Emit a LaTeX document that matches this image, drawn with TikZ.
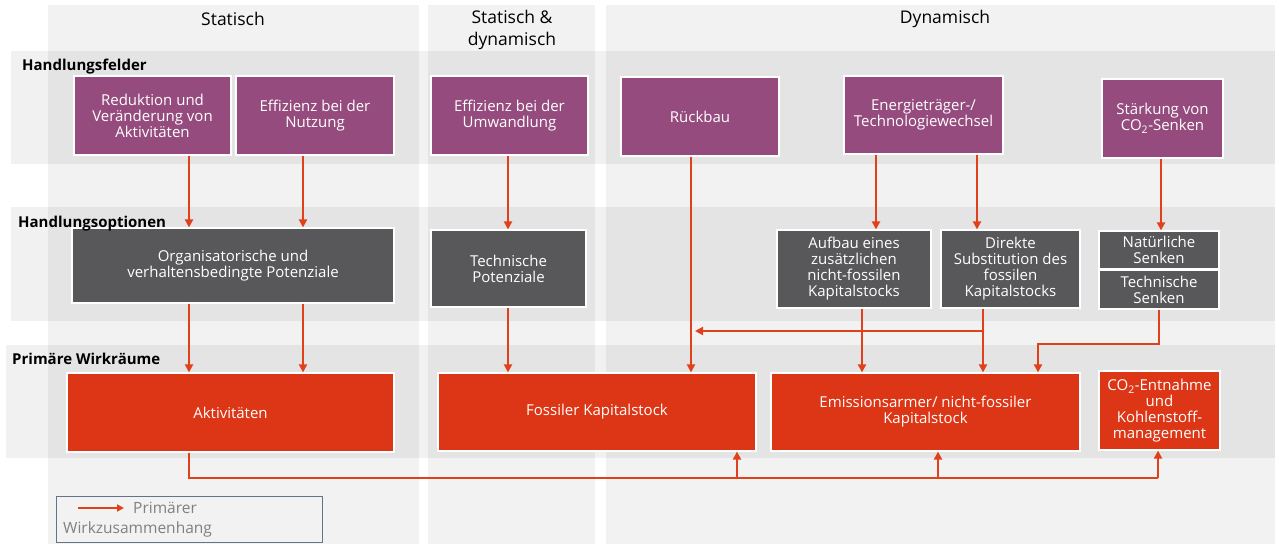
\documentclass[tikz,border=0pt]{standalone}
\usepackage{fontspec}
\setmainfont{Open Sans}
\usetikzlibrary{arrows.meta}
\definecolor{purp}{RGB}{149,75,126}
\definecolor{dgray}{RGB}{88,88,90}
\definecolor{wred}{RGB}{221,54,22}
\definecolor{ared}{RGB}{224,65,27}
\definecolor{colbg}{RGB}{242,242,242}
\definecolor{legbd}{RGB}{100,115,135}
\definecolor{legtx}{RGB}{128,128,128}
\begin{document}
\begin{tikzpicture}[x=1pt,y=-1pt,
  box/.style={draw=white, line width=1.2pt, text=white, align=center, inner sep=2pt, font=\fontsize{15}{16}\selectfont},
  pbox/.style={box, fill=purp},
  gbox/.style={box, fill=dgray},
  rbox/.style={box, fill=wred},
  arr/.style={draw=ared, line width=2.2pt, -{Triangle[length=8pt,width=8pt]}},
  ln/.style={draw=ared, line width=2.2pt},
  col/.style={fill=colbg},
  band/.style={fill=black, fill opacity=0.055},
  rowlab/.style={anchor=base west, font=\fontsize{15}{18}\selectfont\bfseries, inner sep=0pt},
  head/.style={align=center, font=\fontsize{17.5}{22}\selectfont, inner sep=0pt},
  legtext/.style={anchor=west, text=legtx, font=\fontsize{15.5}{18}\selectfont, inner sep=0pt}
]
\useasboundingbox (0,0) rectangle (1279,544);
\fill[white] (0,0) rectangle (1279,544);
% columns
\fill[col] (48,5) rectangle (419,544);
\fill[col] (428,5) rectangle (595,544);
\fill[col] (606,5) rectangle (1275,544);
% row bands
\fill[band] (11,51) rectangle (1275,164);
\fill[band] (11,207) rectangle (1275,321);
\fill[band] (6,345) rectangle (1275,458);
% headers
\node[head] (h1) at (233,19) {Statisch};
\node[head] (h2) at (512,30) {Statisch \&\\dynamisch};
\node[head] (h3) at (945,19) {Dynamisch};
% Handlungsfelder
\node[pbox, minimum width=157pt, minimum height=79pt] (b1) at (152.5,115.5) {Reduktion und\\Veränderung von\\Aktivitäten};
\node[pbox, minimum width=158pt, minimum height=79pt] (b2) at (315,115.5) {Effizienz bei der\\Nutzung};
\node[pbox, minimum width=157pt, minimum height=79pt] (b3) at (509.5,115.5) {Effizienz bei der\\Umwandlung};
\node[pbox, minimum width=158pt, minimum height=79pt] (b4) at (700,116.5) {Rückbau};
\node[pbox, minimum width=159pt, minimum height=78pt] (b5) at (923.5,115) {Energieträger-/\\Technologiewechsel};
\node[pbox, minimum width=121pt, minimum height=79pt] (b6) at (1162.5,118.5) {Stärkung von\\CO\textsubscript{2}-Senken};
% Handlungsoptionen
\node[gbox, minimum width=322pt, minimum height=75pt] (g1) at (233,265.5) {Organisatorische und\\verhaltensbedingte Potenziale};
\node[gbox, minimum width=155pt, minimum height=77pt] (g2) at (508.5,268.5) {Technische\\Potenziale};
\node[gbox, minimum width=154pt, minimum height=78pt] (g3) at (854,269) {Aufbau eines\\zusätzlichen\\nicht-fossilen\\Kapitalstocks};
\node[gbox, minimum width=139pt, minimum height=78pt] (g4) at (1010.5,269) {Direkte\\Substitution des\\fossilen\\Kapitalstocks};
\node[gbox, minimum width=120pt, minimum height=38pt] (g5) at (1159,250) {Natürliche\\Senken};
\node[gbox, minimum width=120pt, minimum height=39pt] (g6) at (1159,289.5) {Technische\\Senken};
% Primäre Wirkräume
\node[rbox, minimum width=327pt, minimum height=79pt] (r1) at (230.5,412.5) {Aktivitäten};
\node[rbox, minimum width=318pt, minimum height=78pt] (r2) at (597,412) {Fossiler Kapitalstock};
\node[rbox, minimum width=309pt, minimum height=78pt] (r3) at (925.5,412) {Emissionsarmer/ nicht-fossiler\\Kapitalstock};
\node[rbox, minimum width=121pt, minimum height=79pt] (r4) at (1159.5,410.5) {CO\textsubscript{2}-Entnahme\\und\\Kohlenstoff-\\management};
% row labels (drawn over the boxes)
\node[rowlab] (l1) at (22,70) {Handlungsfelder};
\node[rowlab] (l2) at (18,227) {Handlungsoptionen};
\node[rowlab] (l3) at (12,364) {Primäre Wirkräume};
% arrows row1 -> row2
\draw[arr] (b1.south -| 189,0) -- (g1.north -| 189,0);
\draw[arr] (b2.south -| 303,0) -- (g1.north -| 303,0);
\draw[arr] (b3.south -| 508,0) -- (g2.north -| 508,0);
\draw[arr] (b5.south -| 876,0) -- (g3.north -| 876,0);
\draw[arr] (b5.south -| 977,0) -- (g4.north -| 977,0);
\draw[arr] (b6.south -| 1161,0) -- (g5.north -| 1161,0);
% row2 -> row3
\draw[arr] (g1.south -| 189,0) -- (r1.north -| 189,0);
\draw[arr] (g1.south -| 303,0) -- (r1.north -| 303,0);
\draw[arr] (g2.south -| 508,0) -- (r2.north -| 508,0);
\draw[arr] (b4.south -| 691,0) -- (r2.north -| 691,0);
\draw[arr] (g3.south -| 862,0) -- (r3.north -| 862,0);
\draw[arr] (g4.south -| 983,0) -- (r3.north -| 983,0);
\coordinate (j1) at (983,331);
\coordinate (j2) at (695,331);
\draw[arr] (j1) -- (j2);
\coordinate (k1) at (1038,344);
\draw[arr] (g6.south -| 1159,0) |- (k1) -- (r3.north -| k1);
% bottom feedback line
\coordinate (m1) at (189,478);
\coordinate (m2) at (737,478);
\coordinate (m3) at (938,478);
\coordinate (m4) at (1158,478);
\draw[ln] (r1.south -| m1) -- (m1) -- (m4);
\draw[arr] (m2) -- (r2.south -| m2);
\draw[arr] (m3) -- (r3.south -| m3);
\draw[arr] (m4) -- (r4.south -| m4);
% legend
\node[draw=legbd, line width=1pt, minimum width=266pt, minimum height=46pt, inner sep=0pt] (leg) at (189,519) {};
\coordinate (la) at (78,508);
\coordinate (lb) at (124,508);
\draw[draw=ared, line width=2pt, -{Triangle[length=7pt,width=7pt]}] (la) -- (lb);
\node[legtext] (lt1) at (133,508) {Primärer};
\node[legtext] (lt2) at (63,529) {Wirkzusammenhang};
\end{tikzpicture}
\end{document}
